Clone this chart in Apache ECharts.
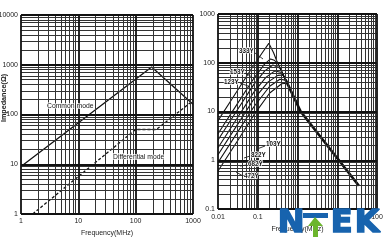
<!DOCTYPE html>
<html><head><meta charset="utf-8">
<script src="https://cdn.jsdelivr.net/npm/echarts@6/dist/echarts.min.js"></script>
<style>html,body{margin:0;padding:0;background:#fff}#c{width:385px;height:241px}</style>
</head><body><div id="c"></div>
<script>
// ---- data ----
const commonMode = [[1, 9], [190, 900], [1000, 160]];
const diffMode = [[1.6, 1], [100, 50], [230, 50], [1000, 190]];
const curve333Y = [[0.01, 6.5], [0.03, 26], [0.08, 90], [0.13, 160], [0.19, 250], [0.25, 160], [0.3, 110], [0.5, 45], [1.2, 10], [35, 0.3]];
const curve153Y = [[0.01, 3.5], [0.03, 14], [0.08, 48], [0.15, 95], [0.21, 120], [0.26, 112], [0.32, 98], [0.5, 45], [1.2, 10], [35, 0.3]];
const curve123Y = [[0.01, 2.6], [0.03, 10.5], [0.08, 36], [0.15, 68], [0.24, 90], [0.36, 78], [0.5, 45], [1.2, 10], [35, 0.3]];
const curve103Y = [[0.01, 1.8], [0.03, 7.2], [0.08, 25], [0.16, 50], [0.27, 68], [0.4, 63], [0.5, 45], [1.2, 10], [35, 0.3]];
const curve822Y = [[0.01, 1.3], [0.03, 5.2], [0.08, 18], [0.18, 40], [0.32, 55], [0.43, 56], [0.52, 43], [1.2, 10], [35, 0.3]];
const curve682Y = [[0.01, 0.9], [0.03, 3.6], [0.08, 12.5], [0.2, 33], [0.36, 46], [0.5, 44], [0.6, 34], [1.2, 10], [35, 0.3]];
const curve472Y = [[0.01, 0.6], [0.03, 2.4], [0.08, 8.5], [0.2, 24], [0.4, 37], [0.55, 38], [0.7, 26], [1.2, 10], [35, 0.3]];
const envelope = [[0.5, 45], [1.2, 10], [35, 0.3]];
const rightNames = ['333Y', '153Y', '123Y', '103Y', '822Y', '682Y', '472Y'];
const rightCurves = [curve333Y, curve153Y, curve123Y, curve103Y, curve822Y, curve682Y, curve472Y];
const minorSteps = [2, 3, 4, 5, 6, 7, 8, 9];
const leftXExp = [0, 3], leftYExp = [0, 4], rightXExp = [-2, 2], rightYExp = [-1, 3];

const FONT = '"Liberation Sans",Arial,sans-serif';

function gridVals(exp) {
  const major = [], minor = [];
  for (let e = exp[0]; e <= exp[1]; e++) {
    major.push(+Math.pow(10, e).toPrecision(6));
    if (e < exp[1]) minorSteps.forEach(m => minor.push(+(m * Math.pow(10, e)).toPrecision(6)));
  }
  return { major, minor };
}
function gridLines(xe, ye) {
  const gx = gridVals(xe), gy = gridVals(ye);
  const minorStyle = { color: '#333', width: 1, type: 'solid' };
  const majorStyle = { color: '#111', width: 1.8, type: 'solid' };
  const d = [];
  gx.minor.forEach(v => d.push({ xAxis: v, lineStyle: minorStyle }));
  gy.minor.forEach(v => d.push({ yAxis: v, lineStyle: minorStyle }));
  gx.major.forEach(v => d.push({ xAxis: v, lineStyle: majorStyle }));
  gy.major.forEach(v => d.push({ yAxis: v, lineStyle: majorStyle }));
  return d;
}
const fmt = v => String(+(+v).toPrecision(6));

const chart = echarts.init(document.getElementById('c'), null, { renderer: 'canvas' });

function xAx(gi, min, max, margin, gap) {
  return {
    type: 'log', logBase: 10, gridIndex: gi, min, max,
    axisLine: { show: false }, axisTick: { show: false }, splitLine: { show: false },
    axisLabel: { fontSize: 7, color: '#222', margin, fontFamily: FONT, formatter: fmt },
    name: 'Frequency(MHz)', nameLocation: 'middle', nameGap: gap,
    nameTextStyle: { fontSize: 7, color: '#222', fontFamily: FONT }
  };
}
function yAx(gi, min, max) {
  return {
    type: 'log', logBase: 10, gridIndex: gi, min, max,
    axisLine: { show: false }, axisTick: { show: false }, splitLine: { show: false },
    axisLabel: { fontSize: 7, color: '#222', margin: 3, fontFamily: FONT, formatter: fmt }
  };
}

const series = [];
series.push({
  type: 'line', xAxisIndex: 0, yAxisIndex: 0, data: [[1, 1]], symbol: 'none', silent: true, z: 1,
  lineStyle: { width: 0 },
  markLine: { silent: true, symbol: 'none', label: { show: false }, animation: false, data: gridLines(leftXExp, leftYExp) }
});
series.push({
  type: 'line', xAxisIndex: 1, yAxisIndex: 1, data: [[0.01, 0.1]], symbol: 'none', silent: true, z: 1,
  lineStyle: { width: 0 },
  markLine: { silent: true, symbol: 'none', label: { show: false }, animation: false, data: gridLines(rightXExp, rightYExp) }
});
series.push({ name: 'Common mode', type: 'line', xAxisIndex: 0, yAxisIndex: 0, data: commonMode, symbol: 'none', z: 3,
  lineStyle: { color: '#111', width: 1.3 } });
series.push({ name: 'Differential mode', type: 'line', xAxisIndex: 0, yAxisIndex: 0, data: diffMode, symbol: 'none', z: 3,
  lineStyle: { color: '#111', width: 1.3, type: [3, 2] } });
rightCurves.forEach((c, i) => series.push({ name: rightNames[i], type: 'line', xAxisIndex: 1, yAxisIndex: 1, data: c,
  symbol: 'none', z: 3, lineStyle: { color: '#111', width: 1.1 } }));
series.push({ name: 'envelope', type: 'line', xAxisIndex: 1, yAxisIndex: 1, data: envelope, symbol: 'none', z: 3,
  lineStyle: { color: '#111', width: 2.6 } });

const txt = (x, y, s, extra) => Object.assign({ type: 'text', x, y, scaleX: 0.85, z: 100,
  style: Object.assign({ text: s, fill: '#111', font: '8px ' + FONT }, extra || {}) });
const tag = (x, y, s) => ({ type: 'text', x, y, scaleX: 0.9, z: 100,
  style: { text: s, fill: '#111', font: 'bold 7px ' + FONT, stroke: '#fff', lineWidth: 1.5 } });
const ln = (x1, y1, x2, y2) => ({ type: 'line', z: 100, shape: { x1, y1, x2, y2 }, style: { stroke: '#222', lineWidth: 0.9 } });
const BLUE = '#1763ae', GREEN = '#6cb52d';
const LOGOFONT = 'bold 32px "DejaVu Sans","Liberation Sans",Arial,sans-serif';
const logoStyle = (t) => ({ text: t, fill: BLUE, stroke: BLUE, lineWidth: 1.6, font: LOGOFONT });

chart.setOption({
  animation: false,
  backgroundColor: '#fff',
  grid: [
    { left: 21, top: 15, width: 172, height: 199, containLabel: false, outerBoundsMode: 'none' },
    { left: 218, top: 14, width: 159, height: 195, containLabel: false, outerBoundsMode: 'none' }
  ],
  xAxis: [xAx(0, 1, 1000, 4, 15), xAx(1, 0.01, 100, 5, 15)],
  yAxis: [yAx(0, 1, 10000), yAx(1, 0.1, 1000)],
  series,
  graphic: [
    { type: 'text', z: 100, x: 0, y: 98, rotation: Math.PI / 2, scaleX: 0.9, style: { text: 'Impedance(Ω)', fill: '#222',
      font: 'bold 8px ' + FONT, textAlign: 'center', textVerticalAlign: 'top' } },
    txt(47, 102, 'Common mode', { stroke: '#fff', lineWidth: 1.5 }),
    txt(113, 153, 'Differential mode', { stroke: '#fff', lineWidth: 1.5 }),
    tag(239, 48, '333Y'), ln(255, 53, 263, 59),
    tag(230, 69, '153Y'), ln(245, 73, 252, 77),
    tag(224, 79, '123Y'), ln(240, 83, 248, 86),
    tag(266, 141, '103Y'), ln(265, 146, 257, 149),
    tag(251, 152, '822Y'), ln(250, 156, 244, 158),
    tag(248, 161, '682Y'), ln(247, 165, 240, 166),
    tag(244, 173, '472Y'), ln(243, 176, 236, 172),
    // NTEK logo
    { type: 'text', z: 110, left: 277, top: 207, style: logoStyle('N') },
    { type: 'rect', z: 110, shape: { x: 303, y: 213, width: 25, height: 5 }, style: { fill: BLUE } },
    { type: 'polygon', z: 110, shape: { points: [[315, 217], [323, 226], [318, 226], [318, 237], [313, 237], [313, 226], [308, 226]] }, style: { fill: GREEN } },
    { type: 'text', z: 110, left: 330, top: 207, style: logoStyle('E') },
    { type: 'text', z: 110, left: 354, top: 207, style: logoStyle('K') }
  ]
});
</script></body></html>
